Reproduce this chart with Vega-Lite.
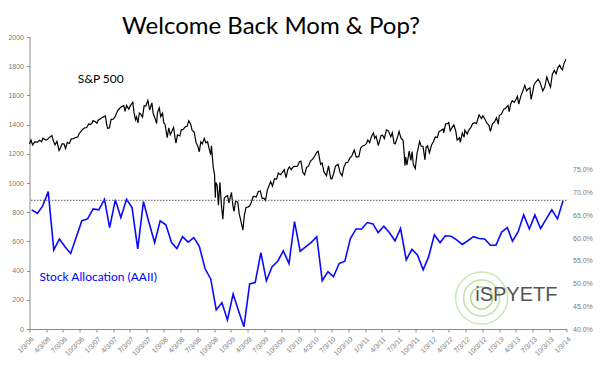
{
  "$schema": "https://vega.github.io/schema/vega-lite/v6.json",
  "width": 537,
  "height": 292,
  "autosize": "none",
  "padding": {"left": 29.5, "top": 37, "right": 33.5, "bottom": 45},
  "background": "white",
  "config": {
    "view": {"stroke": null},
    "axis": {"labelFont": "Liberation Sans", "labelFontSize": 7, "labelColor": "#7a7a7a", "domainColor": "#8c8c8c", "tickColor": "#8c8c8c", "grid": false}
  },
  "title": {"text": "Welcome Back Mom & Pop?", "font": "Lato", "fontSize": 24, "fontWeight": "normal", "color": "black", "anchor": "middle", "frame": "group", "dx": -27, "dy": 28, "offset": 3, "baseline": "alphabetic"},
  "datasets": {
    "sp": [
      {"date":"2006-01-03","close":1268},{"date":"2006-01-11","close":1294},{"date":"2006-01-20","close":1261},{"date":"2006-02-01","close":1282},{"date":"2006-02-15","close":1280},{"date":"2006-02-27","close":1292},{"date":"2006-03-10","close":1282},{"date":"2006-03-17","close":1307},{"date":"2006-03-31","close":1295},{"date":"2006-04-07","close":1295},{"date":"2006-04-20","close":1311},{"date":"2006-05-05","close":1325},{"date":"2006-05-12","close":1292},{"date":"2006-05-22","close":1262},{"date":"2006-06-01","close":1285},{"date":"2006-06-13","close":1223},{"date":"2006-06-20","close":1240},{"date":"2006-06-30","close":1270},{"date":"2006-07-10","close":1267},{"date":"2006-07-18","close":1236},{"date":"2006-07-28","close":1278},{"date":"2006-08-08","close":1271},{"date":"2006-08-18","close":1302},{"date":"2006-08-31","close":1304},{"date":"2006-09-12","close":1313},{"date":"2006-09-22","close":1314},{"date":"2006-09-29","close":1336},{"date":"2006-10-10","close":1354},{"date":"2006-10-20","close":1368},{"date":"2006-10-31","close":1378},{"date":"2006-11-10","close":1380},{"date":"2006-11-22","close":1406},{"date":"2006-11-30","close":1400},{"date":"2006-12-08","close":1409},{"date":"2006-12-15","close":1427},{"date":"2006-12-29","close":1418},
      {"date":"2007-01-05","close":1409},{"date":"2007-01-12","close":1430},{"date":"2007-01-24","close":1440},{"date":"2007-02-02","close":1448},{"date":"2007-02-20","close":1459},{"date":"2007-02-27","close":1399},{"date":"2007-03-05","close":1374},{"date":"2007-03-14","close":1378},{"date":"2007-03-23","close":1436},{"date":"2007-04-03","close":1437},{"date":"2007-04-13","close":1452},{"date":"2007-04-27","close":1494},{"date":"2007-05-09","close":1512},{"date":"2007-05-18","close":1522},{"date":"2007-05-31","close":1530},{"date":"2007-06-07","close":1490},{"date":"2007-06-15","close":1532},{"date":"2007-06-27","close":1506},{"date":"2007-07-06","close":1530},{"date":"2007-07-19","close":1553},{"date":"2007-07-26","close":1482},{"date":"2007-08-03","close":1433},{"date":"2007-08-09","close":1453},{"date":"2007-08-16","close":1411},{"date":"2007-08-24","close":1479},{"date":"2007-08-31","close":1473},{"date":"2007-09-10","close":1451},{"date":"2007-09-19","close":1529},{"date":"2007-09-28","close":1527},{"date":"2007-10-09","close":1565},{"date":"2007-10-19","close":1500},{"date":"2007-10-31","close":1549},{"date":"2007-11-07","close":1476},{"date":"2007-11-15","close":1451},{"date":"2007-11-26","close":1407},{"date":"2007-11-30","close":1481},{"date":"2007-12-10","close":1515},{"date":"2007-12-18","close":1455},{"date":"2007-12-28","close":1478},
      {"date":"2008-01-04","close":1411},{"date":"2008-01-11","close":1401},{"date":"2008-01-22","close":1310},{"date":"2008-01-31","close":1378},{"date":"2008-02-08","close":1331},{"date":"2008-02-15","close":1349},{"date":"2008-02-26","close":1381},{"date":"2008-03-07","close":1293},{"date":"2008-03-10","close":1273},{"date":"2008-03-18","close":1330},{"date":"2008-03-31","close":1322},{"date":"2008-04-08","close":1366},{"date":"2008-04-17","close":1365},{"date":"2008-04-30","close":1385},{"date":"2008-05-09","close":1388},{"date":"2008-05-19","close":1426},{"date":"2008-05-30","close":1400},{"date":"2008-06-06","close":1360},{"date":"2008-06-17","close":1350},{"date":"2008-06-27","close":1278},{"date":"2008-07-07","close":1252},{"date":"2008-07-15","close":1214},{"date":"2008-07-23","close":1282},{"date":"2008-07-31","close":1267},{"date":"2008-08-11","close":1305},{"date":"2008-08-20","close":1275},{"date":"2008-08-29","close":1282},{"date":"2008-09-05","close":1242},{"date":"2008-09-15","close":1193},{"date":"2008-09-19","close":1255},{"date":"2008-09-29","close":1106},{"date":"2008-10-06","close":1056},{"date":"2008-10-10","close":899},{"date":"2008-10-13","close":1003},{"date":"2008-10-20","close":985},{"date":"2008-10-27","close":848},{"date":"2008-11-04","close":1005},{"date":"2008-11-12","close":852},{"date":"2008-11-20","close":752},{"date":"2008-11-28","close":896},{"date":"2008-12-08","close":909},{"date":"2008-12-16","close":913},{"date":"2008-12-23","close":863},{"date":"2008-12-31","close":903},
      {"date":"2009-01-06","close":935},{"date":"2009-01-14","close":843},{"date":"2009-01-20","close":806},{"date":"2009-01-28","close":874},{"date":"2009-02-09","close":870},{"date":"2009-02-17","close":790},{"date":"2009-02-27","close":735},{"date":"2009-03-09","close":677},{"date":"2009-03-17","close":778},{"date":"2009-03-26","close":832},{"date":"2009-04-06","close":835},{"date":"2009-04-14","close":842},{"date":"2009-04-24","close":866},{"date":"2009-05-04","close":907},{"date":"2009-05-11","close":909},{"date":"2009-05-20","close":903},{"date":"2009-06-01","close":942},{"date":"2009-06-12","close":946},{"date":"2009-06-22","close":893},{"date":"2009-07-02","close":896},{"date":"2009-07-10","close":880},{"date":"2009-07-20","close":951},{"date":"2009-07-31","close":987},{"date":"2009-08-07","close":1010},{"date":"2009-08-17","close":979},{"date":"2009-08-28","close":1029},{"date":"2009-09-08","close":1025},{"date":"2009-09-18","close":1068},{"date":"2009-09-30","close":1057},{"date":"2009-10-09","close":1071},{"date":"2009-10-20","close":1091},{"date":"2009-10-30","close":1036},{"date":"2009-11-09","close":1093},{"date":"2009-11-17","close":1110},{"date":"2009-11-27","close":1091},{"date":"2009-12-04","close":1105},{"date":"2009-12-14","close":1114},{"date":"2009-12-31","close":1115},
      {"date":"2010-01-11","close":1146},{"date":"2010-01-19","close":1150},{"date":"2010-01-29","close":1073},{"date":"2010-02-08","close":1056},{"date":"2010-02-18","close":1106},{"date":"2010-03-01","close":1115},{"date":"2010-03-12","close":1150},{"date":"2010-03-25","close":1165},{"date":"2010-04-05","close":1187},{"date":"2010-04-15","close":1211},{"date":"2010-04-23","close":1217},{"date":"2010-05-06","close":1128},{"date":"2010-05-14","close":1136},{"date":"2010-05-25","close":1074},{"date":"2010-06-07","close":1050},{"date":"2010-06-18","close":1117},{"date":"2010-06-30","close":1031},{"date":"2010-07-06","close":1028},{"date":"2010-07-16","close":1065},{"date":"2010-07-26","close":1115},{"date":"2010-08-09","close":1128},{"date":"2010-08-20","close":1071},{"date":"2010-08-31","close":1049},{"date":"2010-09-10","close":1110},{"date":"2010-09-21","close":1139},{"date":"2010-09-30","close":1141},{"date":"2010-10-12","close":1170},{"date":"2010-10-22","close":1183},{"date":"2010-11-05","close":1225},{"date":"2010-11-16","close":1178},{"date":"2010-11-30","close":1180},{"date":"2010-12-10","close":1240},{"date":"2010-12-21","close":1254},{"date":"2010-12-31","close":1258},
      {"date":"2011-01-10","close":1270},{"date":"2011-01-18","close":1295},{"date":"2011-01-28","close":1276},{"date":"2011-02-07","close":1319},{"date":"2011-02-18","close":1343},{"date":"2011-02-24","close":1306},{"date":"2011-03-04","close":1321},{"date":"2011-03-16","close":1256},{"date":"2011-03-31","close":1326},{"date":"2011-04-08","close":1328},{"date":"2011-04-18","close":1305},{"date":"2011-04-29","close":1364},{"date":"2011-05-10","close":1357},{"date":"2011-05-23","close":1317},{"date":"2011-05-31","close":1345},{"date":"2011-06-10","close":1271},{"date":"2011-06-16","close":1268},{"date":"2011-06-30","close":1321},{"date":"2011-07-07","close":1353},{"date":"2011-07-18","close":1306},{"date":"2011-07-29","close":1292},{"date":"2011-08-04","close":1200},{"date":"2011-08-08","close":1119},{"date":"2011-08-12","close":1178},{"date":"2011-08-19","close":1124},{"date":"2011-08-31","close":1219},{"date":"2011-09-09","close":1154},{"date":"2011-09-16","close":1216},{"date":"2011-09-22","close":1130},{"date":"2011-10-03","close":1099},{"date":"2011-10-13","close":1204},{"date":"2011-10-27","close":1285},{"date":"2011-11-04","close":1253},{"date":"2011-11-14","close":1251},{"date":"2011-11-25","close":1159},{"date":"2011-12-01","close":1244},{"date":"2011-12-09","close":1255},{"date":"2011-12-19","close":1206},{"date":"2011-12-30","close":1258},
      {"date":"2012-01-09","close":1281},{"date":"2012-01-20","close":1315},{"date":"2012-01-31","close":1312},{"date":"2012-02-09","close":1351},{"date":"2012-02-21","close":1362},{"date":"2012-03-02","close":1370},{"date":"2012-03-06","close":1343},{"date":"2012-03-16","close":1404},{"date":"2012-03-30","close":1408},{"date":"2012-04-02","close":1419},{"date":"2012-04-10","close":1358},{"date":"2012-04-20","close":1379},{"date":"2012-04-30","close":1398},{"date":"2012-05-10","close":1358},{"date":"2012-05-18","close":1295},{"date":"2012-05-31","close":1310},{"date":"2012-06-04","close":1278},{"date":"2012-06-15","close":1343},{"date":"2012-06-25","close":1313},{"date":"2012-06-29","close":1362},{"date":"2012-07-12","close":1335},{"date":"2012-07-20","close":1363},{"date":"2012-07-31","close":1379},{"date":"2012-08-10","close":1406},{"date":"2012-08-21","close":1413},{"date":"2012-08-31","close":1407},{"date":"2012-09-06","close":1432},{"date":"2012-09-14","close":1466},{"date":"2012-09-28","close":1441},{"date":"2012-10-05","close":1461},{"date":"2012-10-15","close":1440},{"date":"2012-10-26","close":1411},{"date":"2012-11-07","close":1395},{"date":"2012-11-15","close":1353},{"date":"2012-11-26","close":1406},{"date":"2012-12-07","close":1418},{"date":"2012-12-18","close":1447},{"date":"2012-12-28","close":1402},
      {"date":"2013-01-02","close":1462},{"date":"2013-01-15","close":1473},{"date":"2013-01-25","close":1503},{"date":"2013-02-05","close":1512},{"date":"2013-02-19","close":1531},{"date":"2013-02-25","close":1488},{"date":"2013-03-05","close":1540},{"date":"2013-03-14","close":1563},{"date":"2013-03-25","close":1552},{"date":"2013-04-02","close":1570},{"date":"2013-04-11","close":1593},{"date":"2013-04-18","close":1541},{"date":"2013-04-30","close":1597},{"date":"2013-05-09","close":1626},{"date":"2013-05-21","close":1669},{"date":"2013-05-31","close":1631},{"date":"2013-06-07","close":1643},{"date":"2013-06-18","close":1652},{"date":"2013-06-24","close":1573},{"date":"2013-07-02","close":1615},{"date":"2013-07-11","close":1675},{"date":"2013-07-22","close":1695},{"date":"2013-08-02","close":1710},{"date":"2013-08-12","close":1689},{"date":"2013-08-27","close":1631},{"date":"2013-09-06","close":1655},{"date":"2013-09-18","close":1726},{"date":"2013-09-27","close":1692},{"date":"2013-10-08","close":1656},{"date":"2013-10-18","close":1745},{"date":"2013-10-29","close":1771},{"date":"2013-11-07","close":1747},{"date":"2013-11-18","close":1792},{"date":"2013-11-27","close":1807},{"date":"2013-12-05","close":1785},{"date":"2013-12-12","close":1775},{"date":"2013-12-20","close":1818},{"date":"2013-12-31","close":1848}
    ],
    "aaii": [
      {"date":"2006-01-15","alloc":0.662},{"date":"2006-02-15","alloc":0.654},{"date":"2006-03-15","alloc":0.670},{"date":"2006-04-15","alloc":0.702},{"date":"2006-05-15","alloc":0.574},{"date":"2006-06-15","alloc":0.598},{"date":"2006-07-15","alloc":0.581},{"date":"2006-08-15","alloc":0.566},{"date":"2006-09-15","alloc":0.603},{"date":"2006-10-15","alloc":0.638},{"date":"2006-11-15","alloc":0.642},{"date":"2006-12-15","alloc":0.664},
      {"date":"2007-01-15","alloc":0.662},{"date":"2007-02-15","alloc":0.685},{"date":"2007-03-15","alloc":0.623},{"date":"2007-04-15","alloc":0.684},{"date":"2007-05-15","alloc":0.645},{"date":"2007-06-15","alloc":0.685},{"date":"2007-07-15","alloc":0.667},{"date":"2007-08-15","alloc":0.576},{"date":"2007-09-15","alloc":0.680},{"date":"2007-10-15","alloc":0.634},{"date":"2007-11-15","alloc":0.590},{"date":"2007-12-15","alloc":0.638},
      {"date":"2008-01-15","alloc":0.629},{"date":"2008-02-15","alloc":0.590},{"date":"2008-03-15","alloc":0.577},{"date":"2008-04-15","alloc":0.603},{"date":"2008-05-15","alloc":0.591},{"date":"2008-06-15","alloc":0.601},{"date":"2008-07-15","alloc":0.582},{"date":"2008-08-15","alloc":0.533},{"date":"2008-09-15","alloc":0.510},{"date":"2008-10-15","alloc":0.442},{"date":"2008-11-15","alloc":0.458},{"date":"2008-12-15","alloc":0.420},
      {"date":"2009-01-15","alloc":0.477},{"date":"2009-02-15","alloc":0.438},{"date":"2009-03-15","alloc":0.405},{"date":"2009-04-15","alloc":0.499},{"date":"2009-05-15","alloc":0.502},{"date":"2009-06-15","alloc":0.568},{"date":"2009-07-15","alloc":0.506},{"date":"2009-08-15","alloc":0.537},{"date":"2009-09-15","alloc":0.549},{"date":"2009-10-15","alloc":0.572},{"date":"2009-11-15","alloc":0.544},{"date":"2009-12-15","alloc":0.636},
      {"date":"2010-01-15","alloc":0.571},{"date":"2010-02-15","alloc":0.581},{"date":"2010-03-15","alloc":0.590},{"date":"2010-04-15","alloc":0.603},{"date":"2010-05-15","alloc":0.506},{"date":"2010-06-15","alloc":0.526},{"date":"2010-07-15","alloc":0.515},{"date":"2010-08-15","alloc":0.544},{"date":"2010-09-15","alloc":0.549},{"date":"2010-10-15","alloc":0.599},{"date":"2010-11-15","alloc":0.620},{"date":"2010-12-15","alloc":0.620},
      {"date":"2011-01-15","alloc":0.634},{"date":"2011-02-15","alloc":0.631},{"date":"2011-03-15","alloc":0.612},{"date":"2011-04-15","alloc":0.626},{"date":"2011-05-15","alloc":0.612},{"date":"2011-06-15","alloc":0.594},{"date":"2011-07-15","alloc":0.621},{"date":"2011-08-15","alloc":0.552},{"date":"2011-09-15","alloc":0.575},{"date":"2011-10-15","alloc":0.563},{"date":"2011-11-15","alloc":0.530},{"date":"2011-12-15","alloc":0.559},
      {"date":"2012-01-15","alloc":0.607},{"date":"2012-02-15","alloc":0.590},{"date":"2012-03-15","alloc":0.605},{"date":"2012-04-15","alloc":0.604},{"date":"2012-05-15","alloc":0.596},{"date":"2012-06-15","alloc":0.586},{"date":"2012-07-15","alloc":0.594},{"date":"2012-08-15","alloc":0.603},{"date":"2012-09-15","alloc":0.599},{"date":"2012-10-15","alloc":0.598},{"date":"2012-11-15","alloc":0.584},{"date":"2012-12-15","alloc":0.584},
      {"date":"2013-01-15","alloc":0.613},{"date":"2013-02-15","alloc":0.623},{"date":"2013-03-15","alloc":0.593},{"date":"2013-04-15","alloc":0.614},{"date":"2013-05-15","alloc":0.651},{"date":"2013-06-15","alloc":0.620},{"date":"2013-07-15","alloc":0.651},{"date":"2013-08-15","alloc":0.621},{"date":"2013-09-15","alloc":0.642},{"date":"2013-10-15","alloc":0.662},{"date":"2013-11-15","alloc":0.642},{"date":"2013-12-15","alloc":0.682}
    ]
  },
  "layer": [
    {
      "data": {"name": "sp"},
      "layer": [
        {
          "mark": {"type": "line", "color": "#000000", "strokeWidth": 1.2},
          "encoding": {
            "x": {"field": "date", "type": "temporal", "title": null,
              "scale": {"type": "utc", "domain": [1136246400000, 1388707200000]},
              "axis": {"values": [1136246400000,1144022400000,1151884800000,1159833600000,1167782400000,1175558400000,1183420800000,1191369600000,1199318400000,1207180800000,1215043200000,1222992000000,1230940800000,1238716800000,1246579200000,1254528000000,1262476800000,1270252800000,1278115200000,1286064000000,1294012800000,1301788800000,1309651200000,1317600000000,1325548800000,1333411200000,1341273600000,1349222400000,1357171200000,1364947200000,1372809600000,1380758400000,1388707200000],
                "labelExpr": "utcFormat(datum.value, '%-m/%-d/%y')", "labelAngle": -45, "labelOverlap": false, "labelBound": false, "labelFlush": false, "tickSize": 3, "labelPadding": 3, "title": null}},
            "y": {"field": "close", "type": "quantitative", "title": null,
              "scale": {"domain": [0, 2000], "nice": false, "zero": false},
              "axis": {"values": [0, 200, 400, 600, 800, 1000, 1200, 1400, 1600, 1800, 2000], "format": "d", "labelOverlap": false, "tickSize": 3, "labelPadding": 3, "title": null}}
          }
        },
        {
          "data": {"values": [{}]},
          "mark": {"type": "text", "text": "S&P 500", "font": "Lato", "fontSize": 12, "color": "#000000", "align": "center", "baseline": "middle"},
          "encoding": {
            "x": {"datum": 1169769600000, "type": "temporal", "title": null,
              "axis": {"values": [1136246400000,1144022400000,1151884800000,1159833600000,1167782400000,1175558400000,1183420800000,1191369600000,1199318400000,1207180800000,1215043200000,1222992000000,1230940800000,1238716800000,1246579200000,1254528000000,1262476800000,1270252800000,1278115200000,1286064000000,1294012800000,1301788800000,1309651200000,1317600000000,1325548800000,1333411200000,1341273600000,1349222400000,1357171200000,1364947200000,1372809600000,1380758400000,1388707200000],
                "labelExpr": "utcFormat(datum.value, '%-m/%-d/%y')", "labelAngle": -45, "labelOverlap": false, "labelBound": false, "labelFlush": false, "tickSize": 3, "labelPadding": 3, "title": null}},
            "y": {"datum": 1712, "type": "quantitative", "title": null,
              "axis": {"values": [0, 200, 400, 600, 800, 1000, 1200, 1400, 1600, 1800, 2000], "format": "d", "labelOverlap": false, "tickSize": 3, "labelPadding": 3, "title": null}}
          }
        },
        {
          "data": {"values": [{}]},
          "mark": {"type": "text", "text": "Stock Allocation (AAII)", "font": "Lato", "fontSize": 12, "color": "#0000ff", "align": "center", "baseline": "middle"},
          "encoding": {
            "x": {"datum": 1168560000000, "type": "temporal", "title": null,
              "axis": {"values": [1136246400000,1144022400000,1151884800000,1159833600000,1167782400000,1175558400000,1183420800000,1191369600000,1199318400000,1207180800000,1215043200000,1222992000000,1230940800000,1238716800000,1246579200000,1254528000000,1262476800000,1270252800000,1278115200000,1286064000000,1294012800000,1301788800000,1309651200000,1317600000000,1325548800000,1333411200000,1341273600000,1349222400000,1357171200000,1364947200000,1372809600000,1380758400000,1388707200000],
                "labelExpr": "utcFormat(datum.value, '%-m/%-d/%y')", "labelAngle": -45, "labelOverlap": false, "labelBound": false, "labelFlush": false, "tickSize": 3, "labelPadding": 3, "title": null}},
            "y": {"datum": 356, "type": "quantitative", "title": null,
              "axis": {"values": [0, 200, 400, 600, 800, 1000, 1200, 1400, 1600, 1800, 2000], "format": "d", "labelOverlap": false, "tickSize": 3, "labelPadding": 3, "title": null}}
          }
        },
        {
          "data": {"values": [{}]},
          "mark": {"type": "point", "shape": "circle", "filled": false, "size": 2704, "stroke": "#b5e09a", "strokeWidth": 1.5},
          "encoding": {
            "x": {"datum": 1348790400000, "type": "temporal", "title": null,
              "axis": {"values": [1136246400000,1144022400000,1151884800000,1159833600000,1167782400000,1175558400000,1183420800000,1191369600000,1199318400000,1207180800000,1215043200000,1222992000000,1230940800000,1238716800000,1246579200000,1254528000000,1262476800000,1270252800000,1278115200000,1286064000000,1294012800000,1301788800000,1309651200000,1317600000000,1325548800000,1333411200000,1341273600000,1349222400000,1357171200000,1364947200000,1372809600000,1380758400000,1388707200000],
                "labelExpr": "utcFormat(datum.value, '%-m/%-d/%y')", "labelAngle": -45, "labelOverlap": false, "labelBound": false, "labelFlush": false, "tickSize": 3, "labelPadding": 3, "title": null}},
            "y": {"datum": 212, "type": "quantitative", "title": null,
              "axis": {"values": [0, 200, 400, 600, 800, 1000, 1200, 1400, 1600, 1800, 2000], "format": "d", "labelOverlap": false, "tickSize": 3, "labelPadding": 3, "title": null}}
          }
        },
        {
          "data": {"values": [{}]},
          "mark": {"type": "point", "shape": "circle", "filled": false, "size": 1296, "stroke": "#a3d884", "strokeWidth": 1.5},
          "encoding": {
            "x": {"datum": 1348790400000, "type": "temporal", "title": null,
              "axis": {"values": [1136246400000,1144022400000,1151884800000,1159833600000,1167782400000,1175558400000,1183420800000,1191369600000,1199318400000,1207180800000,1215043200000,1222992000000,1230940800000,1238716800000,1246579200000,1254528000000,1262476800000,1270252800000,1278115200000,1286064000000,1294012800000,1301788800000,1309651200000,1317600000000,1325548800000,1333411200000,1341273600000,1349222400000,1357171200000,1364947200000,1372809600000,1380758400000,1388707200000],
                "labelExpr": "utcFormat(datum.value, '%-m/%-d/%y')", "labelAngle": -45, "labelOverlap": false, "labelBound": false, "labelFlush": false, "tickSize": 3, "labelPadding": 3, "title": null}},
            "y": {"datum": 212, "type": "quantitative", "title": null,
              "axis": {"values": [0, 200, 400, 600, 800, 1000, 1200, 1400, 1600, 1800, 2000], "format": "d", "labelOverlap": false, "tickSize": 3, "labelPadding": 3, "title": null}}
          }
        },
        {
          "data": {"values": [{}]},
          "mark": {"type": "point", "shape": "circle", "filled": false, "size": 484, "stroke": "#8ccc66", "strokeWidth": 1.5},
          "encoding": {
            "x": {"datum": 1348790400000, "type": "temporal", "title": null,
              "axis": {"values": [1136246400000,1144022400000,1151884800000,1159833600000,1167782400000,1175558400000,1183420800000,1191369600000,1199318400000,1207180800000,1215043200000,1222992000000,1230940800000,1238716800000,1246579200000,1254528000000,1262476800000,1270252800000,1278115200000,1286064000000,1294012800000,1301788800000,1309651200000,1317600000000,1325548800000,1333411200000,1341273600000,1349222400000,1357171200000,1364947200000,1372809600000,1380758400000,1388707200000],
                "labelExpr": "utcFormat(datum.value, '%-m/%-d/%y')", "labelAngle": -45, "labelOverlap": false, "labelBound": false, "labelFlush": false, "tickSize": 3, "labelPadding": 3, "title": null}},
            "y": {"datum": 212, "type": "quantitative", "title": null,
              "axis": {"values": [0, 200, 400, 600, 800, 1000, 1200, 1400, 1600, 1800, 2000], "format": "d", "labelOverlap": false, "tickSize": 3, "labelPadding": 3, "title": null}}
          }
        },
        {
          "data": {"values": [{}]},
          "mark": {"type": "text", "text": "iSPYETF", "font": "Liberation Sans", "fontSize": 20, "color": "#555555", "align": "center", "baseline": "middle"},
          "encoding": {
            "x": {"datum": 1365120000000, "type": "temporal", "title": null,
              "axis": {"values": [1136246400000,1144022400000,1151884800000,1159833600000,1167782400000,1175558400000,1183420800000,1191369600000,1199318400000,1207180800000,1215043200000,1222992000000,1230940800000,1238716800000,1246579200000,1254528000000,1262476800000,1270252800000,1278115200000,1286064000000,1294012800000,1301788800000,1309651200000,1317600000000,1325548800000,1333411200000,1341273600000,1349222400000,1357171200000,1364947200000,1372809600000,1380758400000,1388707200000],
                "labelExpr": "utcFormat(datum.value, '%-m/%-d/%y')", "labelAngle": -45, "labelOverlap": false, "labelBound": false, "labelFlush": false, "tickSize": 3, "labelPadding": 3, "title": null}},
            "y": {"datum": 233, "type": "quantitative", "title": null,
              "axis": {"values": [0, 200, 400, 600, 800, 1000, 1200, 1400, 1600, 1800, 2000], "format": "d", "labelOverlap": false, "tickSize": 3, "labelPadding": 3, "title": null}}
          }
        }
      ]
    },
    {
      "data": {"name": "aaii"},
      "layer": [
        {
          "mark": {"type": "line", "color": "#0a0aff", "strokeWidth": 1.6},
          "encoding": {
            "x": {"field": "date", "type": "temporal", "title": null,
              "axis": {"values": [1136246400000,1144022400000,1151884800000,1159833600000,1167782400000,1175558400000,1183420800000,1191369600000,1199318400000,1207180800000,1215043200000,1222992000000,1230940800000,1238716800000,1246579200000,1254528000000,1262476800000,1270252800000,1278115200000,1286064000000,1294012800000,1301788800000,1309651200000,1317600000000,1325548800000,1333411200000,1341273600000,1349222400000,1357171200000,1364947200000,1372809600000,1380758400000,1388707200000],
                "labelExpr": "utcFormat(datum.value, '%-m/%-d/%y')", "labelAngle": -45, "labelOverlap": false, "labelBound": false, "labelFlush": false, "tickSize": 3, "labelPadding": 3, "title": null}},
            "y": {"field": "alloc", "type": "quantitative", "title": null,
              "scale": {"domain": [0.4, 1.042], "nice": false, "zero": false},
              "axis": {"orient": "right", "values": [0.4, 0.45, 0.5, 0.55, 0.6, 0.65, 0.7, 0.75], "format": ".1%", "labelOverlap": false, "domain": false, "ticks": false, "labelPadding": 6, "title": null}}
          }
        },
        {
          "data": {"values": [{}]},
          "mark": {"type": "rule", "color": "#555555", "strokeWidth": 1, "strokeDash": [1.5, 1.5]},
          "encoding": {
            "y": {"datum": 0.683, "type": "quantitative", "title": null,
              "axis": {"orient": "right", "values": [0.4, 0.45, 0.5, 0.55, 0.6, 0.65, 0.7, 0.75], "format": ".1%", "labelOverlap": false, "domain": false, "ticks": false, "labelPadding": 6, "title": null}}
          }
        }
      ]
    }
  ],
  "resolve": {"scale": {"y": "independent"}, "axis": {"y": "independent"}}
}
